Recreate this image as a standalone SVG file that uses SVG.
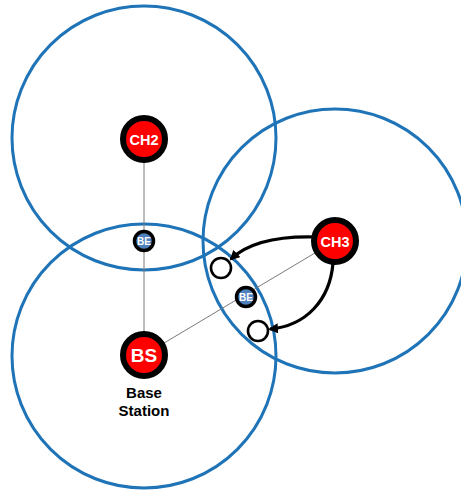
<svg xmlns="http://www.w3.org/2000/svg" width="461" height="490" viewBox="0 0 461 490">
<style>
.range{fill:none;stroke:#1f74b8;stroke-width:3}
.link{stroke:#7a7a7a;stroke-width:1;fill:none}
.arrow{stroke:#000;stroke-width:3.2;fill:none;marker-end:url(#ah)}
.ch{fill:#ff0000;stroke:#000;stroke-width:6}
.be{fill:#4f81bd;stroke:#000;stroke-width:3.5}
.mem{fill:#fff;stroke:#000;stroke-width:2.6}
.lbl{font-family:"Liberation Sans",Arial,sans-serif;font-weight:bold;text-anchor:middle;fill:#fff}
.cap{font-family:"Liberation Sans",Arial,sans-serif;font-weight:bold;text-anchor:middle;fill:#000;font-size:15px}
</style>
<defs>
<marker id="ah" markerWidth="10" markerHeight="10" refX="8" refY="5" orient="auto" markerUnits="userSpaceOnUse">
<path d="M0,0 L10,5 L0,10 z" fill="#000"/>
</marker>
</defs>
<rect width="461" height="490" fill="#fff"/>
<g id="ranges">
<circle class="range" cx="144" cy="138" r="132"/>
<circle class="range" cx="144" cy="356" r="132"/>
<circle class="range" cx="335" cy="241" r="132"/>
</g>
<g id="connectors">
<line class="link" x1="144" y1="139" x2="144" y2="355"/>
<line class="link" x1="144" y1="355" x2="335" y2="241"/>
<path class="arrow" d="M316,237 C282,236 250,241 231,259"/>
<path class="arrow" d="M333,263 C330,300 306,326 270,329"/>
</g>
<g id="CH2">
<circle class="ch" cx="144" cy="139" r="21"/>
<text class="lbl" x="144" y="144.5" font-size="14.5">CH2</text>
</g>
<g id="CH3">
<circle class="ch" cx="335" cy="241" r="21"/>
<text class="lbl" x="335" y="246.5" font-size="14.5">CH3</text>
</g>
<g id="BS">
<circle class="ch" cx="144" cy="355" r="21"/>
<text class="lbl" x="144" y="362" font-size="19">BS</text>
<text class="cap" x="144" y="398">Base</text>
<text class="cap" x="144" y="416">Station</text>
</g>
<g id="BE1">
<circle class="be" cx="144" cy="241" r="9.5"/>
<text class="lbl" x="144" y="244.5" font-size="10">BE</text>
</g>
<g id="BE2">
<circle class="be" cx="246" cy="297" r="9.5"/>
<text class="lbl" x="246" y="300.5" font-size="10">BE</text>
</g>
<g id="M1">
<circle class="mem" cx="221" cy="268" r="10"/>
</g>
<g id="M2">
<circle class="mem" cx="258" cy="331" r="10"/>
</g>
</svg>
